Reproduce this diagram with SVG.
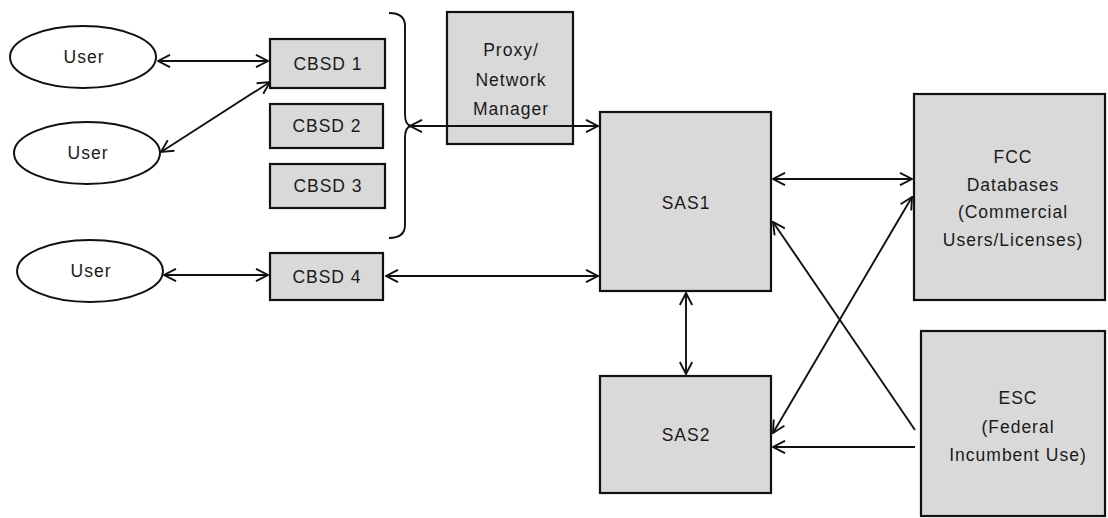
<svg xmlns="http://www.w3.org/2000/svg" width="1108" height="518" viewBox="0 0 1108 518">
<defs>
<style>
.box{fill:#d9d9d9;stroke:#111;stroke-width:2.2}
.ell{fill:#fff;stroke:#111;stroke-width:2}
.t{font-family:"Liberation Sans",Arial,sans-serif;font-size:17.5px;letter-spacing:1px;fill:#1a1a1a;text-anchor:middle}
.c{stroke:#111;stroke-width:1.9;fill:none}
</style>
<marker id="ah" viewBox="0 0 14 14" refX="13" refY="7" markerWidth="14" markerHeight="14" markerUnits="userSpaceOnUse" orient="auto-start-reverse">
<path d="M1,0.8 L13,7 L1,13.2" fill="none" stroke="#111" stroke-width="1.9"/>
</marker>
</defs>
<rect width="1108" height="518" fill="#fff"/>
<g id="user1"><ellipse class="ell" cx="83" cy="57" rx="73" ry="31"/><text class="t" x="84" y="63">User</text></g>
<g id="user2"><ellipse class="ell" cx="87" cy="153" rx="73" ry="31"/><text class="t" x="88" y="159">User</text></g>
<g id="user3"><ellipse class="ell" cx="90" cy="271" rx="73" ry="31"/><text class="t" x="91" y="277">User</text></g>
<g id="cbsd1"><rect class="box" x="270" y="39" width="115" height="49"/><text class="t" x="328" y="70">CBSD 1</text></g>
<g id="cbsd2"><rect class="box" x="270" y="104" width="113" height="44"/><text class="t" x="327" y="132">CBSD 2</text></g>
<g id="cbsd3"><rect class="box" x="270" y="164" width="115" height="44"/><text class="t" x="328" y="192">CBSD 3</text></g>
<g id="cbsd4"><rect class="box" x="270" y="253" width="113" height="47"/><text class="t" x="327" y="283">CBSD 4</text></g>
<g id="brace"><path class="c" d="M389,13 Q405,13 405,26 L405,114 Q405,125 411,126 Q405,127 405,138 L405,225 Q405,238 389,238"/></g>
<g id="proxy"><rect class="box" x="447" y="12" width="126" height="132"/>
<text class="t" x="511" y="56">Proxy/</text><text class="t" x="511" y="86">Network</text><text class="t" x="511" y="115">Manager</text></g>
<g id="sas1"><rect class="box" x="600" y="112" width="171" height="179"/><text class="t" x="686" y="209">SAS1</text></g>
<g id="sas2"><rect class="box" x="600" y="376" width="171" height="117"/><text class="t" x="686" y="441">SAS2</text></g>
<g id="fcc"><rect class="box" x="914" y="94" width="191" height="206"/>
<text class="t" x="1013" y="163">FCC</text><text class="t" x="1013" y="191">Databases</text><text class="t" x="1013" y="218">(Commercial</text><text class="t" x="1013" y="246">Users/Licenses)</text></g>
<g id="esc"><rect class="box" x="921" y="331" width="184" height="185"/>
<text class="t" x="1018" y="404">ESC</text><text class="t" x="1018" y="433">(Federal</text><text class="t" x="1018" y="461">Incumbent Use)</text></g>
<g id="connectors">
<line class="c" x1="158" y1="61" x2="268" y2="61" marker-start="url(#ah)" marker-end="url(#ah)"/>
<line class="c" x1="161" y1="152" x2="270" y2="82" marker-start="url(#ah)" marker-end="url(#ah)"/>
<line class="c" x1="410" y1="126" x2="598" y2="126" marker-start="url(#ah)" marker-end="url(#ah)"/>
<line class="c" x1="164" y1="275" x2="268" y2="275" marker-start="url(#ah)" marker-end="url(#ah)"/>
<line class="c" x1="386" y1="276" x2="598" y2="276" marker-start="url(#ah)" marker-end="url(#ah)"/>
<line class="c" x1="773" y1="179" x2="912" y2="179" marker-start="url(#ah)" marker-end="url(#ah)"/>
<line class="c" x1="686" y1="293" x2="686" y2="374" marker-start="url(#ah)" marker-end="url(#ah)"/>
<line class="c" x1="773" y1="433" x2="912" y2="197" marker-start="url(#ah)" marker-end="url(#ah)"/>
<line class="c" x1="915" y1="430" x2="773" y2="222" marker-end="url(#ah)"/>
<line class="c" x1="915" y1="447" x2="773" y2="447" marker-end="url(#ah)"/>
</g>
</svg>
